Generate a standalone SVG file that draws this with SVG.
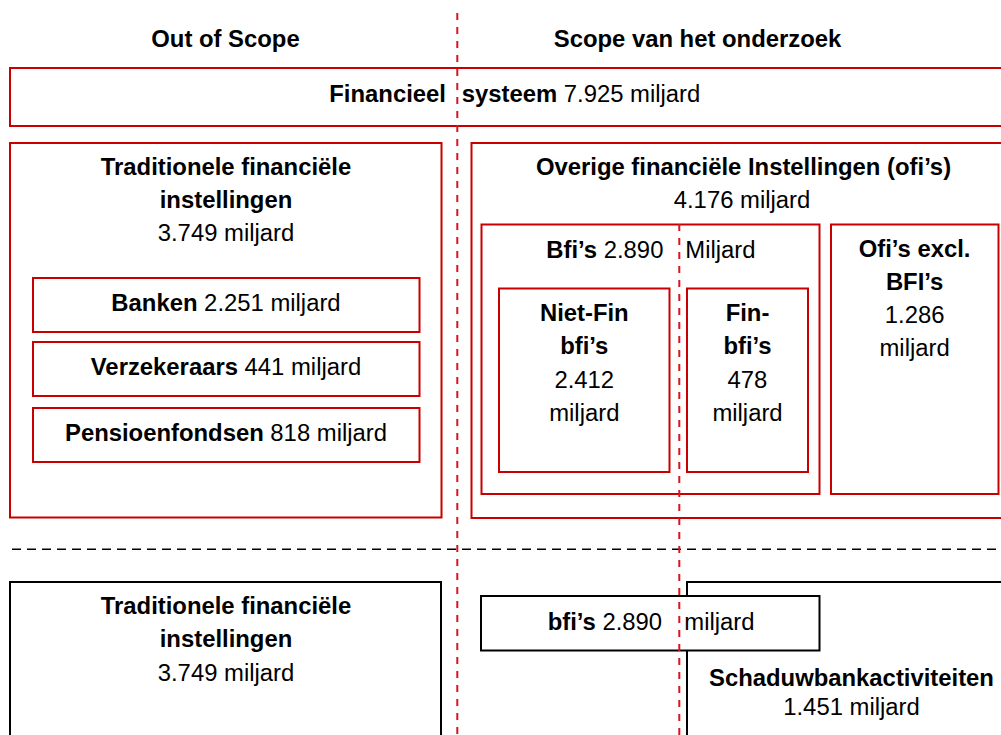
<svg xmlns="http://www.w3.org/2000/svg" width="1001" height="735" viewBox="0 0 1001 735">
  <style>
    text { font-family: "Liberation Sans", Arial, sans-serif; font-size: 23.85px; fill: #000; text-anchor: middle; }
    .b { font-weight: bold; }
    .red { fill: #fff; stroke: #C80000; stroke-width: 2; }
    .blk { fill: #fff; stroke: #000; stroke-width: 2; }
    .sep-red { stroke: #D9141E; stroke-width: 2; stroke-dasharray: 7 7; fill: none; }
    .sep-blk { stroke: #000; stroke-width: 1.6; stroke-dasharray: 9 6; fill: none; }
  </style>

  <rect width="1001" height="735" fill="#fff"/>

  <!-- column headings -->
  <g id="heading-out">
    <text class="b" x="225.5" y="47">Out of Scope</text>
  </g>
  <g id="heading-in">
    <text class="b" x="697.5" y="47">Scope van het onderzoek</text>
  </g>

  <!-- whole financial system -->
  <g id="financieel-systeem">
    <rect class="red" x="10" y="68" width="1010" height="58"/>
    <text x="0" y="102" style="text-anchor:start"><tspan class="b" x="329.3">Financieel</tspan><tspan class="b" x="461.7">systeem</tspan> 7.925 miljard</text>
  </g>

  <!-- traditional institutions -->
  <g id="traditioneel">
    <rect class="red" x="10" y="143" width="431.5" height="374.5"/>
    <text class="b" x="226" y="175">Traditionele financiële</text>
    <text class="b" x="226" y="208">instellingen</text>
    <text x="226" y="241">3.749 miljard</text>
  </g>
  <g id="banken">
    <rect class="red" x="33" y="278" width="386.5" height="54"/>
    <text x="226" y="311"><tspan class="b">Banken</tspan> 2.251 miljard</text>
  </g>
  <g id="verzekeraars">
    <rect class="red" x="33" y="342" width="386.5" height="54"/>
    <text x="226" y="375"><tspan class="b">Verzekeraars</tspan> 441 miljard</text>
  </g>
  <g id="pensioenfondsen">
    <rect class="red" x="33" y="408" width="386.5" height="54"/>
    <text x="226" y="441"><tspan class="b">Pensioenfondsen</tspan> 818 miljard</text>
  </g>

  <!-- other financial institutions -->
  <g id="overige">
    <rect class="red" x="471.5" y="143" width="600" height="375"/>
    <text class="b" x="743.5" y="175">Overige financiële Instellingen (ofi’s)</text>
    <text x="742" y="207.5">4.176 miljard</text>
  </g>
  <g id="bfis">
    <rect class="red" x="481.5" y="224.5" width="338" height="269.5"/>
    <text x="0" y="258" style="text-anchor:start"><tspan class="b" x="546.3">Bfi’s</tspan> 2.890<tspan x="685.3">Miljard</tspan></text>
  </g>
  <g id="niet-fin-bfis">
    <rect class="red" x="499" y="288.5" width="170.5" height="183.5"/>
    <text class="b" x="584.3" y="321">Niet-Fin</text>
    <text class="b" x="584.3" y="354">bfi’s</text>
    <text x="584.3" y="387.5">2.412</text>
    <text x="584.3" y="420.5">miljard</text>
  </g>
  <g id="fin-bfis">
    <rect class="red" x="687" y="288.5" width="121" height="183.5"/>
    <text class="b" x="747.5" y="321">Fin-</text>
    <text class="b" x="747.5" y="354">bfi’s</text>
    <text x="747.5" y="387.5">478</text>
    <text x="747.5" y="420.5">miljard</text>
  </g>
  <g id="ofis-excl-bfis">
    <rect class="red" x="831" y="224.5" width="167.5" height="269.5"/>
    <text class="b" x="914.6" y="257">Ofi’s excl.</text>
    <text class="b" x="914.6" y="290">BFI’s</text>
    <text x="914.6" y="323">1.286</text>
    <text x="914.6" y="356">miljard</text>
  </g>

  <!-- lower band: shadow banking view -->
  <g id="traditioneel-onder">
    <rect class="blk" x="10" y="582" width="431" height="200"/>
    <text class="b" x="226" y="613.5">Traditionele financiële</text>
    <text class="b" x="226" y="647">instellingen</text>
    <text x="226" y="680.5">3.749 miljard</text>
  </g>
  <g id="schaduwbank">
    <rect class="blk" x="687" y="582" width="400" height="200"/>
    <text class="b" x="851.5" y="685.5">Schaduwbankactiviteiten</text>
    <text x="851.5" y="714.5">1.451 miljard</text>
  </g>
  <g id="bfis-onder">
    <rect class="blk" x="481" y="596" width="338.5" height="54.5"/>
    <text x="0" y="629.5" style="text-anchor:start"><tspan class="b" x="547.7">bfi’s</tspan> 2.890<tspan x="684.3">miljard</tspan></text>
  </g>

  <!-- dividing lines -->
  <g id="connectors">
    <line class="sep-blk" x1="12" y1="549.3" x2="1001" y2="549.3"/>
    <line class="sep-red" x1="457.3" y1="13" x2="457.3" y2="735"/>
    <line class="sep-red" x1="679.3" y1="224" x2="679.3" y2="735"/>
  </g>
</svg>
